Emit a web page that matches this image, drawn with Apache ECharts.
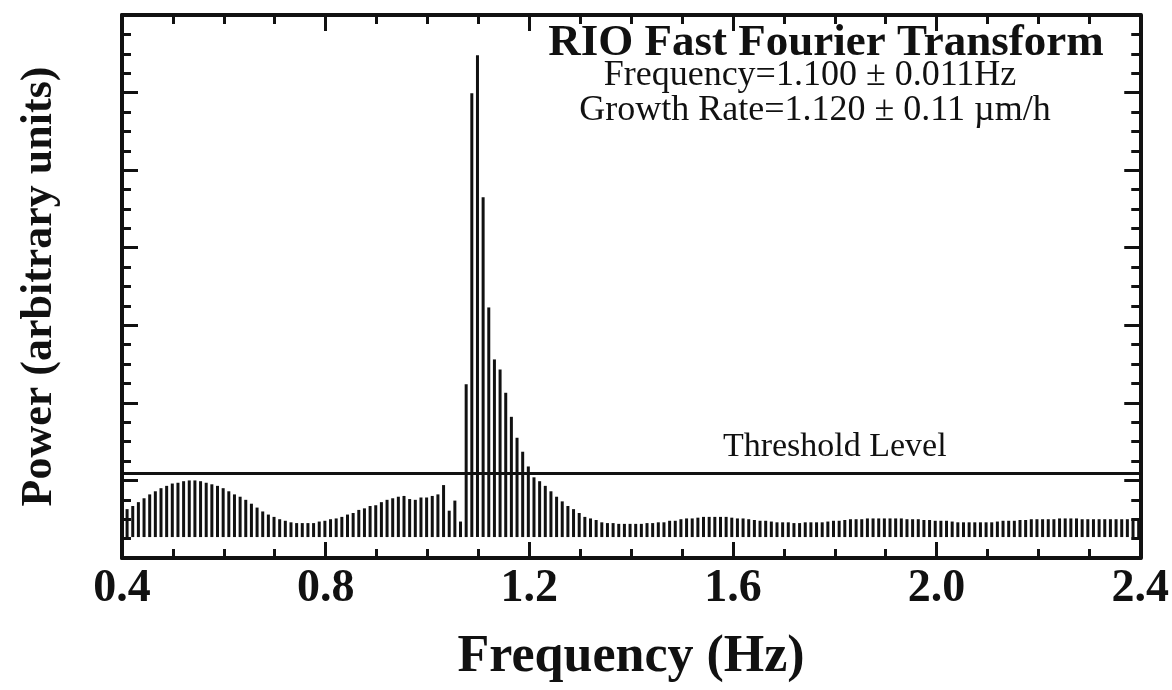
<!DOCTYPE html>
<html>
<head>
<meta charset="utf-8">
<title>RIO Fast Fourier Transform</title>
<script src="https://cdn.jsdelivr.net/npm/echarts@6/dist/echarts.min.js"></script>
<style>
  html, body { margin: 0; padding: 0; background: #fff; }
  #chart { width: 1172px; height: 690px; }
</style>
</head>
<body>
<div id="chart"></div>
<script>
// FFT bins: first bin frequency and bin spacing (Hz)
const binStart = 0.41;
const binStep = 0.0111;

// power per bin (arbitrary units, 10 = one major tick on the power axis)
const power = [
  3.6, 4.0, 4.5, 5.0, 5.5, 5.9, 6.3, 6.6, 6.9, 7.0,
  7.2, 7.3, 7.3, 7.2, 7.0, 6.8, 6.6, 6.3, 5.9, 5.5,
  5.2, 4.8, 4.3, 3.8, 3.3, 2.9, 2.6, 2.3, 2.1, 1.9,
  1.8, 1.8, 1.8, 1.8, 2.0, 2.1, 2.3, 2.4, 2.6, 2.9,
  3.1, 3.5, 3.7, 4.0, 4.1, 4.5, 4.8, 5.0, 5.2, 5.3,
  4.9, 4.8, 5.1, 5.1, 5.3, 5.5, 6.7, 3.4, 4.7, 2.0,
  19.7, 57.2, 62.1, 43.8, 29.6, 22.9, 21.6, 18.6, 15.5, 12.8,
  11.0, 9.1, 7.7, 7.2, 6.6, 5.9, 5.2, 4.6, 4.0, 3.6,
  3.1, 2.6, 2.4, 2.2, 1.9, 1.8, 1.8, 1.7, 1.7, 1.7,
  1.7, 1.7, 1.8, 1.8, 1.9, 1.9, 2.1, 2.1, 2.3, 2.4,
  2.4, 2.5, 2.6, 2.6, 2.6, 2.6, 2.6, 2.5, 2.4, 2.4,
  2.3, 2.2, 2.1, 2.1, 2.0, 1.9, 1.9, 1.9, 1.8, 1.8,
  1.9, 1.9, 1.9, 1.9, 2.0, 2.1, 2.1, 2.2, 2.3, 2.3,
  2.3, 2.4, 2.4, 2.4, 2.4, 2.4, 2.4, 2.4, 2.3, 2.3,
  2.3, 2.2, 2.2, 2.1, 2.1, 2.1, 2.0, 1.9, 1.9, 1.9,
  1.9, 1.9, 1.9, 1.9, 2.0, 2.1, 2.1, 2.1, 2.2, 2.2,
  2.3, 2.3, 2.3, 2.3, 2.3, 2.4, 2.4, 2.4, 2.4, 2.3,
  2.3, 2.3, 2.3, 2.3, 2.3, 2.3, 2.3, 2.3, 2.3, 2.3
];

const threshold = 8.2;
const thresholdLabelFreq = 1.8;

const titleLines = [
  'RIO Fast Fourier Transform',
  'Frequency=1.100 \u00b1 0.011Hz',
  'Growth Rate=1.120 \u00b1 0.11 \u00b5m/h'
];

const serif = "'Liberation Serif', 'Times New Roman', serif";
const ink = '#111';

const barData = power.map((p, i) => [+(binStart + i * binStep).toFixed(4), p]);

const tickStyle = { color: ink, width: 3 };

function frameAxis(extra) {
  return Object.assign({
    type: 'value',
    axisLine: { show: true, onZero: false, lineStyle: { color: ink, width: 4 } },
    axisTick: { show: true, inside: true, length: 16, lineStyle: tickStyle },
    minorTick: { show: true, splitNumber: 4, length: 9, lineStyle: tickStyle },
    splitLine: { show: false },
    minorSplitLine: { show: false },
    axisLabel: { show: false }
  }, extra);
}

const chart = echarts.init(document.getElementById('chart'), null, { renderer: 'canvas' });

const option = {
  backgroundColor: '#fff',
  animation: false,
  grid: { left: 122, right: 30, top: 15, bottom: 132 },
  xAxis: [
    frameAxis({
      position: 'bottom',
      min: 0.4, max: 2.4, interval: 0.4,
      axisLabel: {
        show: true, margin: 8, color: ink,
        fontFamily: serif, fontWeight: 'bold', fontSize: 46,
        showMinLabel: true, showMaxLabel: true,
        formatter: v => v.toFixed(1)
      },
      name: 'Frequency (Hz)',
      nameLocation: 'middle',
      nameGap: 74,
      nameTextStyle: { color: ink, fontFamily: serif, fontWeight: 'bold', fontSize: 52 }
    }),
    frameAxis({ position: 'top', min: 0.4, max: 2.4, interval: 0.4 })
  ],
  yAxis: [
    frameAxis({
      position: 'left',
      min: 0, max: 70, interval: 10,
      name: 'Power (arbitrary units)',
      nameLocation: 'middle',
      nameRotate: 90,
      nameGap: 60,
      nameTextStyle: { color: ink, fontFamily: serif, fontWeight: 'bold', fontSize: 44 }
    }),
    frameAxis({ position: 'right', min: 0, max: 70, interval: 10 }),
    // data axis: bar baseline sits a little above the frame bottom
    { type: 'value', show: false, min: -2.7, max: 67.3 }
  ],
  series: [
    {
      name: 'Power',
      type: 'bar',
      xAxisIndex: 0,
      yAxisIndex: 2,
      barWidth: 3,
      itemStyle: { color: ink },
      data: barData,
      markLine: {
        silent: true,
        symbol: 'none',
        label: { show: false },
        lineStyle: { color: ink, width: 3, type: 'solid' },
        data: [{ yAxis: threshold }]
      }
    }
  ]
};

chart.setOption(option);

// text blocks placed relative to the axes
const lx = chart.convertToPixel({ xAxisIndex: 0 }, thresholdLabelFreq);
const ly = chart.convertToPixel({ yAxisIndex: 2 }, threshold);

chart.setOption({
  graphic: [
    {
      type: 'text', x: 826, y: 43,
      style: {
        text: titleLines[0], fill: ink,
        font: 'bold 45px ' + serif,
        textAlign: 'center', textVerticalAlign: 'middle', align: 'center', verticalAlign: 'middle'
      }
    },
    {
      type: 'text', x: 810, y: 76,
      style: {
        text: titleLines[1], fill: ink,
        font: '36px ' + serif,
        textAlign: 'center', textVerticalAlign: 'middle', align: 'center', verticalAlign: 'middle'
      }
    },
    {
      type: 'text', x: 815, y: 111,
      style: {
        text: titleLines[2], fill: ink,
        font: '36px ' + serif,
        textAlign: 'center', textVerticalAlign: 'middle', align: 'center', verticalAlign: 'middle'
      }
    },
    {
      type: 'text', x: lx, y: ly - 26,
      style: {
        text: 'Threshold Level', fill: ink,
        font: '34px ' + serif,
        textAlign: 'center', textVerticalAlign: 'middle', align: 'center', verticalAlign: 'middle'
      }
    }
  ]
});
</script>
</body>
</html>
